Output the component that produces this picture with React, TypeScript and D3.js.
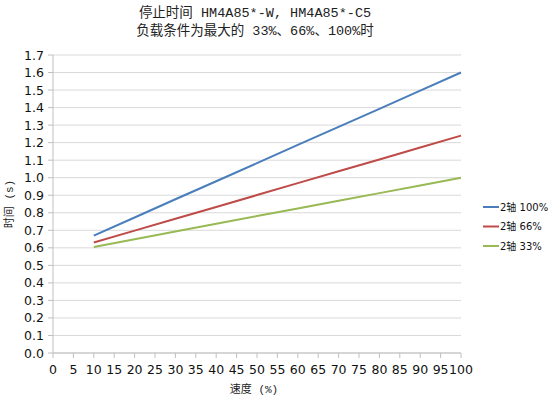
import React from "react";
import * as d3 from "d3";

const speeds = [10, 20, 30, 40, 50, 60, 70, 80, 90, 100];
const load100 = [0.67, 0.773, 0.877, 0.98, 1.083, 1.187, 1.29, 1.393, 1.497, 1.6];
const load66 = [0.63, 0.698, 0.766, 0.833, 0.901, 0.969, 1.037, 1.104, 1.172, 1.24];
const load33 = [0.605, 0.649, 0.693, 0.737, 0.781, 0.824, 0.868, 0.912, 0.956, 1.0];
const seriesNames = ["2轴 100%", "2轴 66%", "2轴 33%"];
const seriesColors = ["#4a7ebb", "#be4b48", "#98b954"];
const xTicks = d3.range(0, 101, 5);
const yTicks = d3.range(0, 17.5, 1).map((v) => v / 10);
const titleLines = ["停止时间 HM4A85*-W, HM4A85*-C5", "负载条件为最大的 33%、66%、100%时"];

const W = 550, H = 397;
const x = d3.scaleLinear().domain([0, 100]).range([53, 461]);
const y = d3.scaleLinear().domain([0, 1.7]).range([353, 55]);

const font = "'DejaVu Sans', 'Noto Sans CJK SC', sans-serif";
const cjk = "'Liberation Mono', 'Noto Sans CJK SC', monospace";

export default function App() {
  const allSeries = [load100, load66, load33];
  const line = d3.line<number>().x((_, i) => x(speeds[i])).y((d) => y(d));
  return (
    <svg width={W} height={H} style={{ position: "absolute", left: 0, top: 0, background: "#fff" }}>
      {titleLines.map((t, i) => (
        <text key={i} x={255} y={17 + i * 18} textAnchor="middle" fontSize={13.5} fontFamily={cjk} fill="#222">{t}</text>
      ))}
      {yTicks.map((t) => (
        <g key={t}>
          <line x1={x(0)} x2={x(100)} y1={y(t)} y2={y(t)} stroke="#d9d9d9" strokeWidth={1} />
          <line x1={48} x2={53} y1={y(t)} y2={y(t)} stroke="#bfbfbf" />
          <text x={44} y={y(t) + 4.5} textAnchor="end" fontSize={12.5} fontFamily={font} fill="#111">{t.toFixed(1)}</text>
        </g>
      ))}
      <line x1={x(0)} x2={x(0)} y1={y(1.7)} y2={y(0)} stroke="#bfbfbf" />
      <line x1={x(0)} x2={x(100)} y1={y(0)} y2={y(0)} stroke="#bfbfbf" />
      {xTicks.map((t) => (
        <g key={t}>
          <line x1={x(t)} x2={x(t)} y1={y(0)} y2={y(0) + 5} stroke="#bfbfbf" />
          <text x={x(t)} y={374} textAnchor="middle" fontSize={12.5} fontFamily={font} fill="#111">{t}</text>
        </g>
      ))}
      <text x={254} y={393} textAnchor="middle" fontSize={11} fontFamily={cjk} fill="#222">速度 (%)</text>
      <text transform={`translate(13,204) rotate(-90)`} textAnchor="middle" fontSize={11} fontFamily={cjk} fill="#222">时间 (s)</text>
      {allSeries.map((s, i) => (
        <path key={i} d={line(s) || ""} fill="none" stroke={seriesColors[i]} strokeWidth={2} />
      ))}
      {seriesNames.map((n, i) => (
        <g key={n}>
          <line x1={483} x2={499} y1={207 + i * 19.5} y2={207 + i * 19.5} stroke={seriesColors[i]} strokeWidth={2} />
          <text x={500} y={210.5 + i * 19.5} fontSize={10} fontFamily={font} fill="#111">{n}</text>
        </g>
      ))}
    </svg>
  );
}
